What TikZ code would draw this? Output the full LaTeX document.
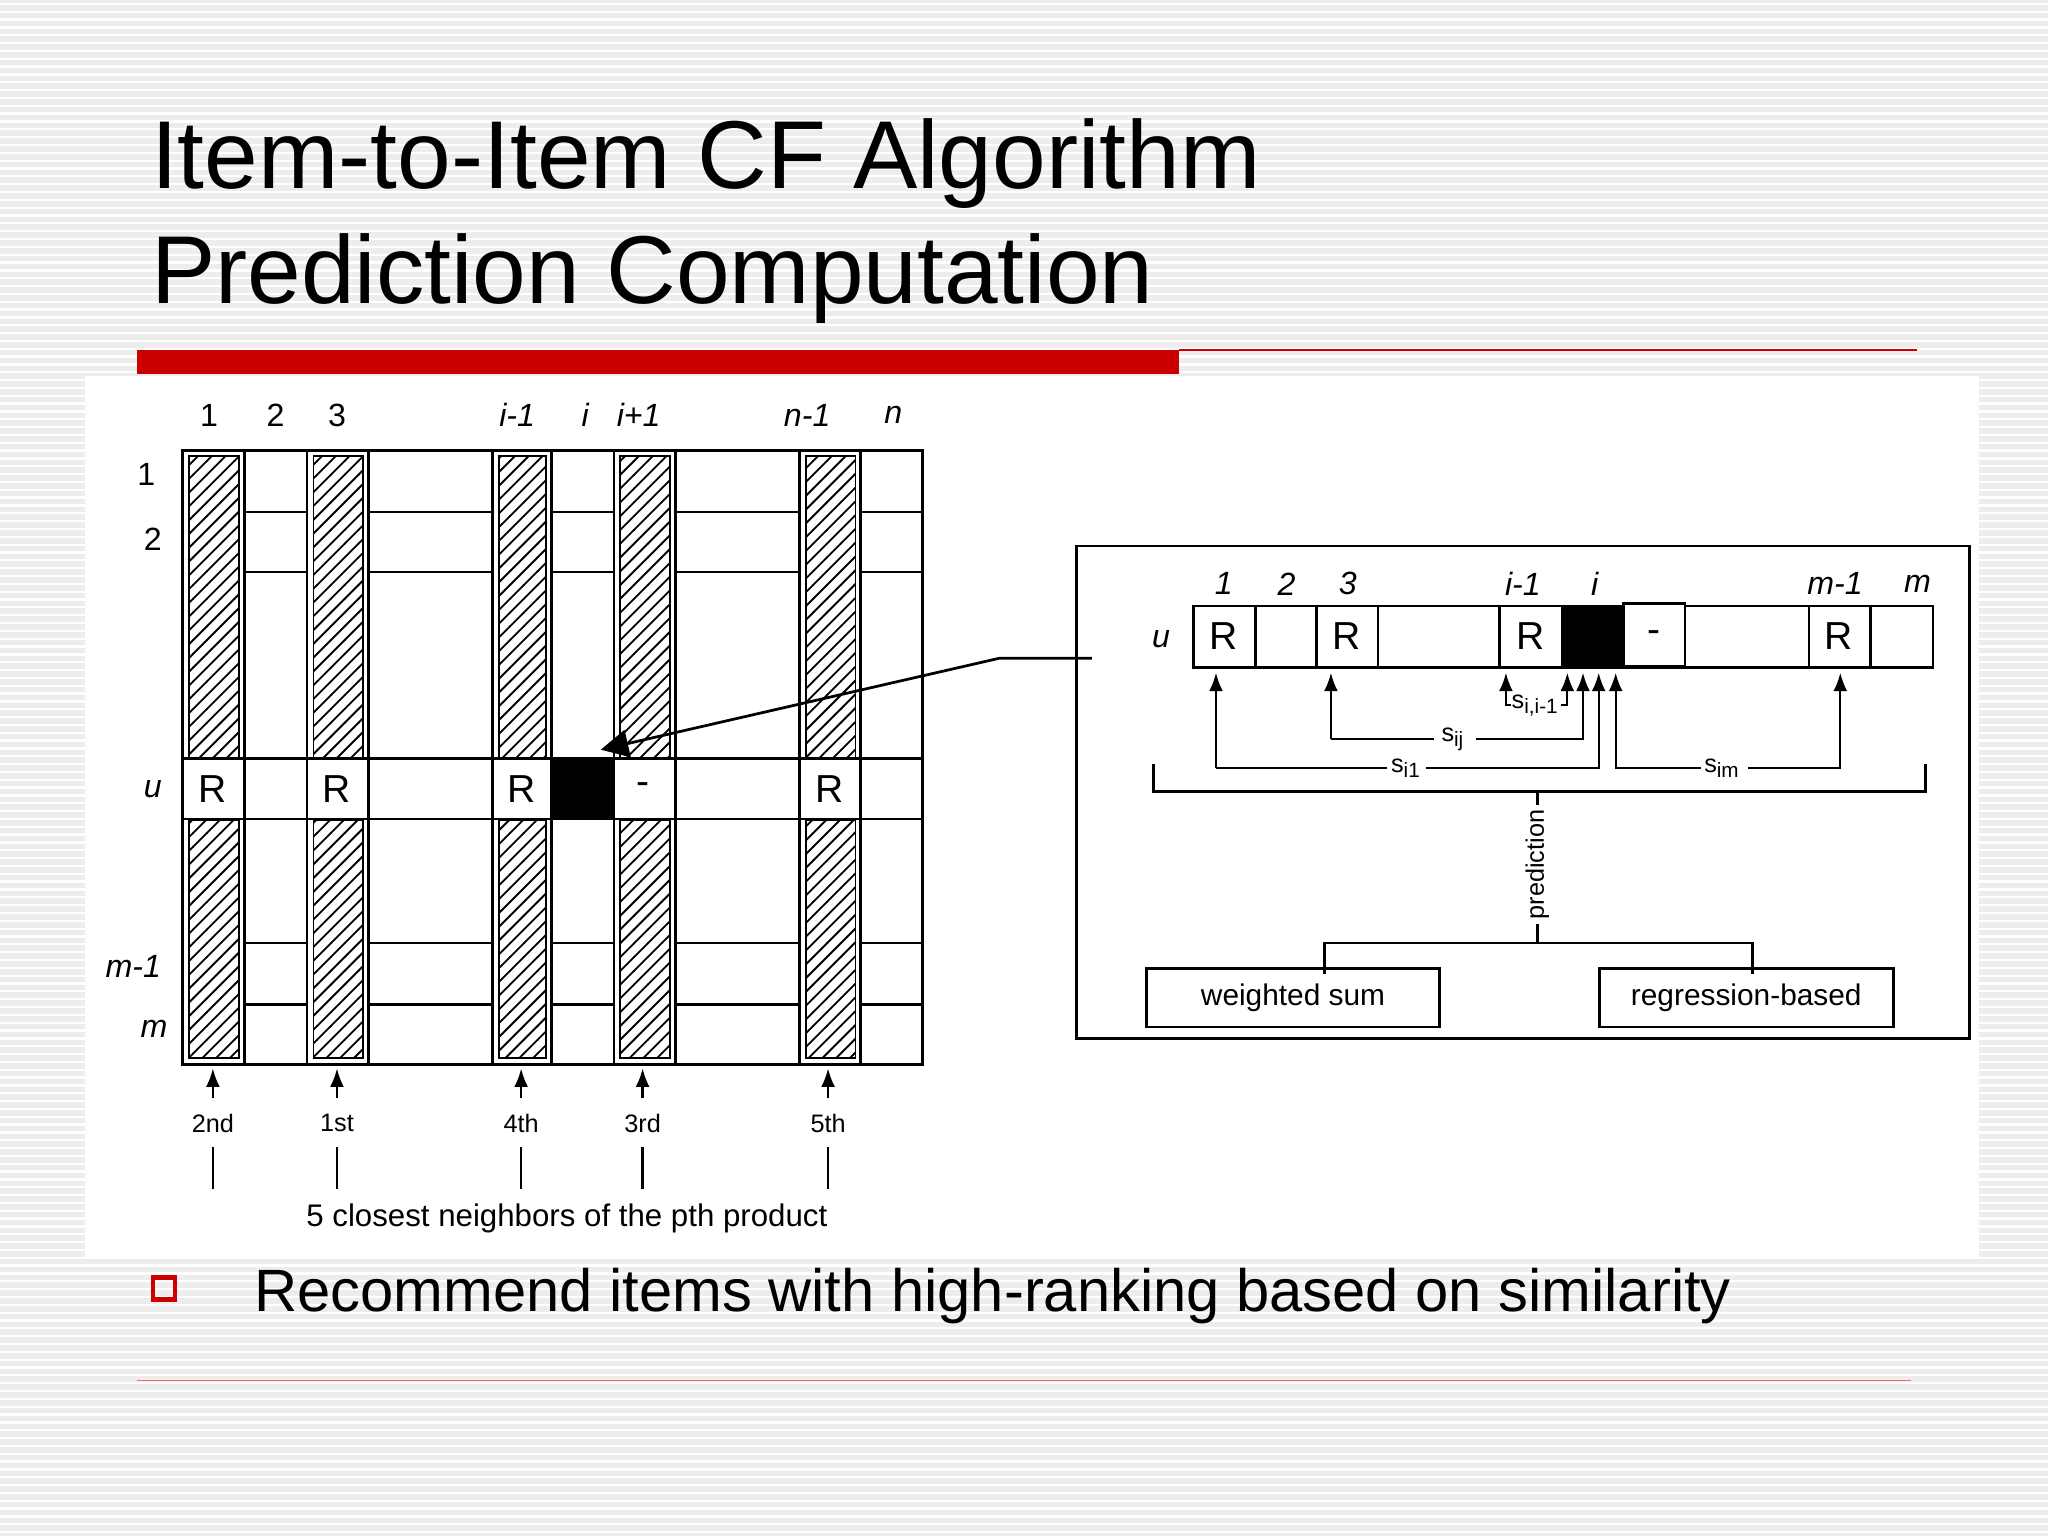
\documentclass[tikz,border=0pt]{standalone}
\usepackage{fontspec}
\setmainfont{Liberation Sans}
\usetikzlibrary{patterns,arrows.meta}
\newcommand{\sbs}[1]{\raisebox{-0.35ex}{\fontsize{4.5}{4.5}\selectfont #1}}
\begin{document}
\begin{tikzpicture}[x=0.01cm,y=-0.01cm,
  lab/.style={font=\fontsize{7}{8}\selectfont\itshape},
  num/.style={font=\fontsize{7}{8}\selectfont},
  rr/.style={font=\fontsize{8.5}{9}\selectfont},
  sm/.style={font=\fontsize{5.5}{6}\selectfont},
  hat/.style={draw,pattern=north east lines},
  ln/.style={line width=0.6pt},
  arr/.style={-{Latex[length=4pt,width=3pt]},line width=0.5pt},
  bx/.style={draw,line width=0.6pt,minimum height=37*0.01cm,font=\fontsize{6.5}{7}\selectfont}]
\useasboundingbox (0,0) rectangle (1568,1176);
\fill[gray!14] (0,0) rectangle (1568,1176);
\foreach \y in {3,9,...,1176} \draw[white,line width=0.5pt] (0,\y) -- (1568,\y);
\fill[white] (65,288) rectangle (1515,963);
% title
\node[anchor=west,font=\fontsize{21}{24}\selectfont,inner sep=0pt] (t1) at (115,125) {Item-to-Item CF Algorithm};
\node[anchor=west,font=\fontsize{21}{24}\selectfont,inner sep=0pt] (t2) at (115,213) {Prediction Computation};
\fill[red!80!black] (105,268) rectangle (903,286);
\draw[red!80!black,line width=0.4pt] (903,268) -- (1468,268);
\draw[red!60,line width=0.4pt] (105,1057) -- (1463,1057);
% left matrix
\draw[ln] (140,345) rectangle (706,815);
\foreach \x in {187,235,282,377,422,470,517,612,659} \draw[ln] (\x,345) -- (\x,815);
\foreach \y in {392,438,581,627,722,769} \draw[ln] (140,\y) -- (706,\y);
\foreach \a/\b in {140/187,235/282,377/422,470/517,612/659}{
  \fill[white] (\a,345) rectangle (\b,581);
  \fill[white] (\a,627) rectangle (\b,815);
  \draw[ln] (\a,345) rectangle (\b,581);
  \draw[ln] (\a,627) rectangle (\b,815);
  \draw[hat] (\a+5,349) rectangle (\b-4,580);
  \draw[hat] (\a+5,628) rectangle (\b-4,810);
}
\fill (422,581) rectangle (470,627);
\foreach \x in {163,258,399,635} \node[rr] at (\x,604) {R};
\node[rr] at (492,604) {-};
\foreach \x/\t in {160/1,211/2,258/3} \node[num] at (\x,318) {\t};
\foreach \x/\t in {396/{i-1},448/i,489/{i+1},618/{n-1},684/n} \node[lab] at (\x,318) {\t};
\node[num] at (112,363) {1};
\node[num] at (117,413) {2};
\node[lab] at (117,604) {u};
\node[lab] at (102,740) {m-1};
\node[lab] at (118,788) {m};
\foreach \x/\t in {163/2nd,258/1st,399/4th,492/3rd,634/5th}{
  \node[sm] (n\t) at (\x,860) {\t};
  \draw[arr] (n\t.north) -- (\x,818);
  \draw[line width=0.5pt] (\x,878) -- (\x,910);
}
\node[font=\fontsize{6.8}{7}\selectfont] (cap) at (434,933) {5 closest neighbors of the pth product};
% right panel
\draw[ln] (824,418) rectangle (1508,795);
\draw[ln] (914,464) rectangle (1480,511);
\foreach \x in {961,1008,1055,1148,1196,1290,1385,1432} \draw[ln] (\x,464) -- (\x,511);
\fill (1196,464) rectangle (1243,511);
\draw[ln,fill=white] (1243,462) rectangle (1290,510);
\foreach \x in {937,1031,1172,1408} \node[rr] at (\x,487) {R};
\node[rr] at (1266,487) {-};
\foreach \x/\t in {937/1,985/2,1032/3,1166/{i-1},1221/i,1405/{m-1},1468/m} \node[lab] at (\x,447) {\t};
\node[lab] at (889,489) {u};
\coordinate (pl) at (836,504);
\draw[line width=0.6pt,-{Triangle[length=6pt,width=6pt]}] (pl) -- (765,504) -- (460,574);
% similarity arrows
\draw[arr] (1019,566) -- (1019,515);
\draw[line width=0.5pt] (1019,566) -- (1098,566);
\draw[arr] (1130,566) -- (1212,566) -- (1212,515);
\node[sm] at (1112,566) {s\sbs{ij}};
\draw[arr] (931,588) -- (931,515);
\draw[line width=0.5pt] (931,588) -- (1062,588);
\draw[arr] (1092,588) -- (1224,588) -- (1224,515);
\node[sm] at (1076,588) {s\sbs{i1}};
\draw[arr] (1302,588) -- (1237,588) -- (1237,515);
\draw[arr] (1338,588) -- (1409,588) -- (1409,515);
\node[sm] at (1318,588) {s\sbs{im}};
\draw[arr] (1157,540) -- (1153,540) -- (1153,515);
\draw[arr] (1195,540) -- (1200,540) -- (1200,515);
\node[sm] at (1175,540) {s\sbs{i,i-1}};
\draw[ln] (883,585) -- (883,606) -- (1474,606) -- (1474,585);
\draw[ln] (1177,606) -- (1177,722);
\node[sm,fill=white,rotate=90,inner sep=1pt] at (1177,662) {prediction};
\draw[ln] (1014,746) -- (1014,722) -- (1342,722) -- (1342,746);
\node[bx,minimum width=224*0.01cm] (ws) at (990,764) {weighted sum};
\node[bx,minimum width=225*0.01cm] (rb) at (1337,764) {regression-based};
% bullet
\draw[red!80!black,line width=1pt] (117,978) rectangle (134,995);
\node[anchor=west,font=\fontsize{13}{15}\selectfont,inner sep=0pt] (bt) at (194,992) {Recommend items with high-ranking based on similarity};
\end{tikzpicture}
\end{document}
